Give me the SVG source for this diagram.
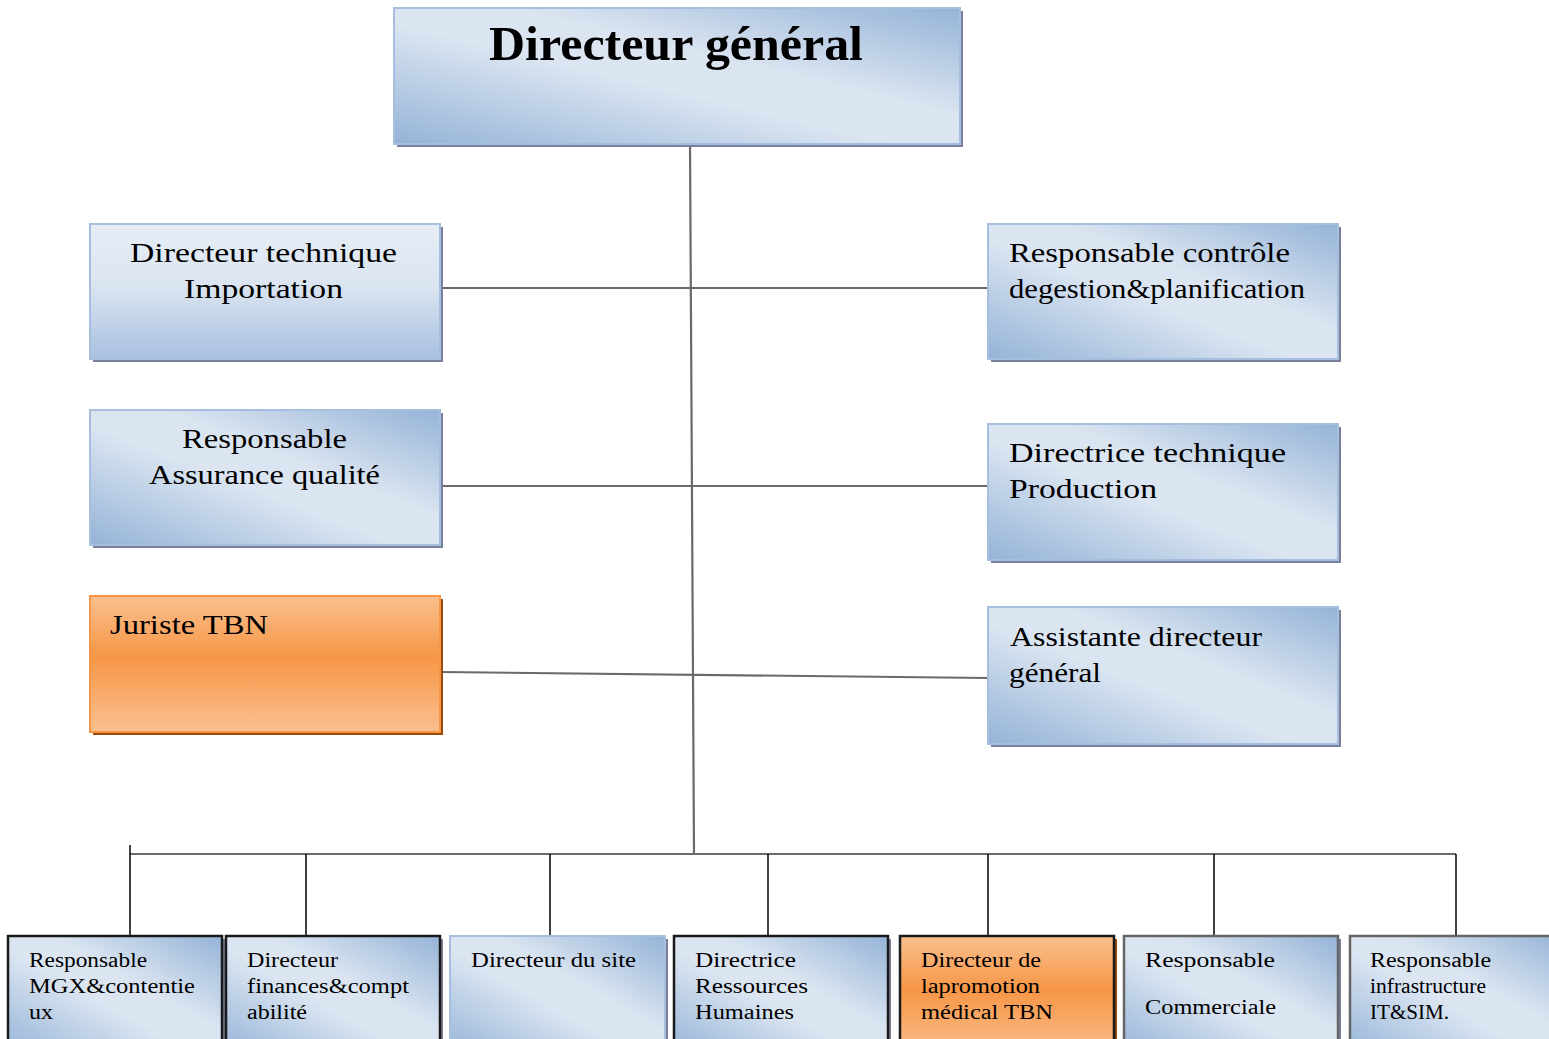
<svg xmlns="http://www.w3.org/2000/svg" width="1549" height="1039" viewBox="0 0 1549 1039">
  <style>
    .t { font-family: "Liberation Serif", "Times New Roman", serif; fill: #000; }
    .big { font-size: 48px; font-weight: bold; }
    .mid { font-size: 28px; }
    .sm { font-size: 20px; }
    .blue { fill: url(#blueGrad); stroke: #a7bfde; stroke-width: 2; }
    .blueV { fill: url(#blueVert); stroke: #a7bfde; stroke-width: 2; }
    .orange { fill: url(#orangeGrad); stroke: #f79646; stroke-width: 2; }
    .shadow { fill: #7a809a; }
    .shadowO { fill: #9a4a0b; }
    .dark { stroke: #1a1a1a; stroke-width: 2.5; }
    .grey { stroke: #666; stroke-width: 2.5; }
    .conn { stroke: #6a6a6a; stroke-width: 2.2; fill: none; }
    .drop { stroke: #111; stroke-width: 1.6; fill: none; }
  </style>
  <defs>
    <linearGradient id="blueGrad" x1="0" y1="1" x2="1" y2="0">
      <stop offset="0" stop-color="#95b3d7"/>
      <stop offset="0.45" stop-color="#dce6f2"/>
      <stop offset="0.6" stop-color="#dbe5f1"/>
      <stop offset="1" stop-color="#95b3d7"/>
    </linearGradient>
    <linearGradient id="blueVert" x1="0" y1="0" x2="0" y2="1">
      <stop offset="0" stop-color="#e6edf6"/>
      <stop offset="0.45" stop-color="#dbe5f1"/>
      <stop offset="1" stop-color="#a9c0e0"/>
    </linearGradient>
    <linearGradient id="orangeGrad" x1="0" y1="0" x2="0" y2="1">
      <stop offset="0" stop-color="#fac08f"/>
      <stop offset="0.45" stop-color="#f79646"/>
      <stop offset="1" stop-color="#fac08f"/>
    </linearGradient>
  </defs>

  <!-- connectors -->
  <g id="connectors">
    <line class="conn" x1="690" y1="144" x2="694" y2="854"/>
    <line class="conn" x1="441" y1="288" x2="988" y2="288"/>
    <line class="conn" x1="441" y1="486" x2="988" y2="486"/>
    <line class="conn" x1="441" y1="672" x2="988" y2="678"/>
    <line class="conn" x1="130" y1="854" x2="1456" y2="854"/>
    <line class="drop" x1="130" y1="845" x2="130" y2="936"/>
    <line class="drop" x1="306" y1="854" x2="306" y2="936"/>
    <line class="drop" x1="550" y1="854" x2="550" y2="936"/>
    <line class="drop" x1="768" y1="854" x2="768" y2="936"/>
    <line class="drop" x1="988" y1="854" x2="988" y2="936"/>
    <line class="drop" x1="1214" y1="854" x2="1214" y2="936"/>
    <line class="drop" x1="1456" y1="854" x2="1456" y2="936"/>
  </g>

  <!-- top level -->
  <g id="directeur-general">
    <rect class="shadow" x="397" y="11" width="566" height="136"/>
    <rect class="blue" x="394" y="8" width="566" height="136"/>
    <text class="t big" x="489" y="60" textLength="374" lengthAdjust="spacingAndGlyphs">Directeur général</text>
  </g>

  <!-- left column -->
  <g id="dir-technique-importation">
    <rect class="shadow" x="93" y="227" width="350" height="135"/>
    <rect class="blueV" x="90" y="224" width="350" height="135"/>
    <text class="t mid" x="130" y="262" textLength="267" lengthAdjust="spacingAndGlyphs">Directeur technique</text>
    <text class="t mid" x="184" y="298" textLength="159" lengthAdjust="spacingAndGlyphs">Importation</text>
  </g>
  <g id="resp-assurance-qualite">
    <rect class="shadow" x="93" y="413" width="350" height="135"/>
    <rect class="blue" x="90" y="410" width="350" height="135"/>
    <text class="t mid" x="182" y="448" textLength="165" lengthAdjust="spacingAndGlyphs">Responsable</text>
    <text class="t mid" x="149" y="484" textLength="231" lengthAdjust="spacingAndGlyphs">Assurance qualité</text>
  </g>
  <g id="juriste-tbn">
    <rect class="shadowO" x="93" y="599" width="350" height="136"/>
    <rect class="orange" x="90" y="596" width="350" height="136"/>
    <text class="t mid" x="110" y="634" textLength="158" lengthAdjust="spacingAndGlyphs">Juriste TBN</text>
  </g>

  <!-- right column -->
  <g id="resp-controle-gestion">
    <rect class="shadow" x="991" y="227" width="350" height="135"/>
    <rect class="blue" x="988" y="224" width="350" height="135"/>
    <text class="t mid" x="1009" y="262" textLength="281" lengthAdjust="spacingAndGlyphs">Responsable contrôle</text>
    <text class="t mid" x="1009" y="298" textLength="296" lengthAdjust="spacingAndGlyphs">degestion&amp;planification</text>
  </g>
  <g id="directrice-technique-production">
    <rect class="shadow" x="991" y="427" width="350" height="136"/>
    <rect class="blue" x="988" y="424" width="350" height="136"/>
    <text class="t mid" x="1009" y="462" textLength="277" lengthAdjust="spacingAndGlyphs">Directrice technique</text>
    <text class="t mid" x="1009" y="498" textLength="148" lengthAdjust="spacingAndGlyphs">Production</text>
  </g>
  <g id="assistante-dg">
    <rect class="shadow" x="991" y="610" width="350" height="137"/>
    <rect class="blue" x="988" y="607" width="350" height="137"/>
    <text class="t mid" x="1010" y="646" textLength="252" lengthAdjust="spacingAndGlyphs">Assistante directeur</text>
    <text class="t mid" x="1009" y="682" textLength="92" lengthAdjust="spacingAndGlyphs">général</text>
  </g>

  <!-- bottom row -->
  <g id="resp-mgx">
    <rect class="shadow" x="11" y="939" width="214" height="120"/>
    <rect class="blue dark" x="8" y="936" width="214" height="120"/>
    <text class="t sm" x="29" y="967" textLength="118" lengthAdjust="spacingAndGlyphs">Responsable</text>
    <text class="t sm" x="29" y="993" textLength="166" lengthAdjust="spacingAndGlyphs">MGX&amp;contentie</text>
    <text class="t sm" x="29" y="1019" textLength="24" lengthAdjust="spacingAndGlyphs">ux</text>
  </g>
  <g id="dir-finances">
    <rect class="shadow" x="229" y="939" width="214" height="120"/>
    <rect class="blue dark" x="226" y="936" width="214" height="120"/>
    <text class="t sm" x="247" y="967" textLength="91" lengthAdjust="spacingAndGlyphs">Directeur</text>
    <text class="t sm" x="247" y="993" textLength="162" lengthAdjust="spacingAndGlyphs">finances&amp;compt</text>
    <text class="t sm" x="247" y="1019" textLength="60" lengthAdjust="spacingAndGlyphs">abilité</text>
  </g>
  <g id="dir-site">
    <rect class="shadow" x="453" y="939" width="215" height="120"/>
    <rect class="blue" x="450" y="936" width="215" height="120"/>
    <text class="t sm" x="471" y="967" textLength="165" lengthAdjust="spacingAndGlyphs">Directeur du site</text>
  </g>
  <g id="directrice-rh">
    <rect class="shadow" x="677" y="939" width="214" height="120"/>
    <rect class="blue dark" x="674" y="936" width="214" height="120"/>
    <text class="t sm" x="695" y="967" textLength="101" lengthAdjust="spacingAndGlyphs">Directrice</text>
    <text class="t sm" x="695" y="993" textLength="113" lengthAdjust="spacingAndGlyphs">Ressources</text>
    <text class="t sm" x="695" y="1019" textLength="99" lengthAdjust="spacingAndGlyphs">Humaines</text>
  </g>
  <g id="dir-promotion-medicale">
    <rect class="shadowO" x="903" y="939" width="214" height="120"/>
    <rect class="orange dark" x="900" y="936" width="214" height="120"/>
    <text class="t sm" x="921" y="967" textLength="120" lengthAdjust="spacingAndGlyphs">Directeur de</text>
    <text class="t sm" x="921" y="993" textLength="119" lengthAdjust="spacingAndGlyphs">lapromotion</text>
    <text class="t sm" x="921" y="1019" textLength="132" lengthAdjust="spacingAndGlyphs">médical TBN</text>
  </g>
  <g id="resp-commerciale">
    <rect class="shadow" x="1127" y="939" width="214" height="120"/>
    <rect class="blue grey" x="1124" y="936" width="214" height="120"/>
    <text class="t sm" x="1145" y="967" textLength="130" lengthAdjust="spacingAndGlyphs">Responsable</text>
    <text class="t sm" x="1145" y="1014" textLength="131" lengthAdjust="spacingAndGlyphs">Commerciale</text>
  </g>
  <g id="resp-infrastructure">
    <rect class="shadow" x="1353" y="939" width="214" height="120"/>
    <rect class="blue grey" x="1350" y="936" width="214" height="120"/>
    <text class="t sm" x="1370" y="967" textLength="121" lengthAdjust="spacingAndGlyphs">Responsable</text>
    <text class="t sm" x="1370" y="993" textLength="116" lengthAdjust="spacingAndGlyphs">infrastructure</text>
    <text class="t sm" x="1370" y="1019" textLength="79" lengthAdjust="spacingAndGlyphs">IT&amp;SIM.</text>
  </g>
</svg>
